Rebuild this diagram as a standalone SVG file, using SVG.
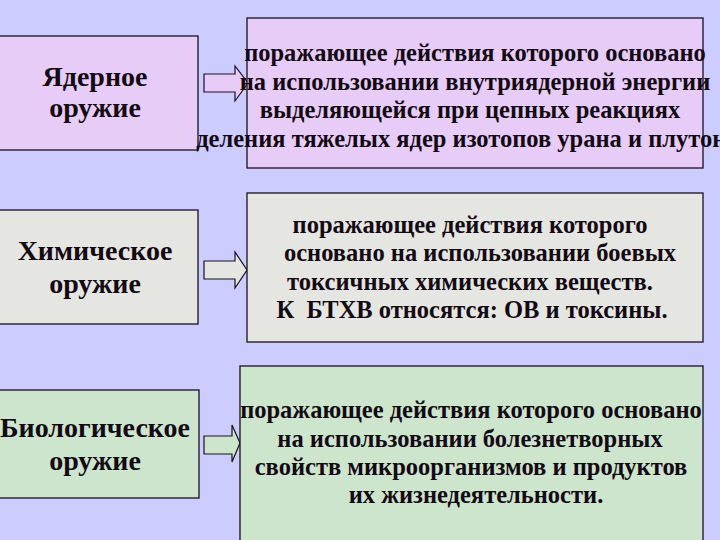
<svg xmlns="http://www.w3.org/2000/svg" width="720" height="540" viewBox="0 0 720 540">
<style>
.box{stroke:#1a1020;stroke-width:1.3}
.r1{fill:#E6CCF7}
.r2{fill:#E5E5E1}
.r3{fill:#CCE5CC}
.t{font-family:"Liberation Serif","Times New Roman",serif;font-weight:bold;fill:#140a14;text-anchor:middle}
.big{font-size:28px}
.sm{font-size:24.5px}
.arr{stroke:#1a1020;stroke-width:1.2}
</style>
<rect width="720" height="540" fill="#CCCCFF"/>
<g id="connectors">
<path class="arr r1" d="M204,74 H235 V66 L248,83 L235,101 V92 H204 Z"/>
<path class="arr r2" d="M204,261 H235 V252 L247,270 L235,288 V279 H204 Z"/>
<path class="arr r3" d="M204,436 H232 V425 L240,443 L232,462 V454 H204 Z"/>
</g>
<g id="nuclear">
<rect class="box r1" x="-1" y="36" width="199" height="114"/>
<text class="t big" x="95" y="86">Ядерное</text>
<text class="t big" x="95" y="117">оружие</text>
</g>
<g id="nuclear-desc">
<rect class="box r1" x="247" y="18" width="456" height="150"/>
<text class="t sm" x="475" y="61">поражающее действия которого основано</text>
<text class="t sm" x="475" y="90">на использовании внутриядерной энергии</text>
<text class="t sm" x="470" y="118">выделяющейся при цепных реакциях</text>
<text class="t sm" x="475" y="147">деления тяжелых ядер изотопов урана и плутония</text>
</g>
<g id="chemical">
<rect class="box r2" x="-1" y="210" width="199" height="114"/>
<text class="t big" x="95" y="260">Химическое</text>
<text class="t big" x="95" y="293">оружие</text>
</g>
<g id="chemical-desc">
<rect class="box r2" x="247" y="193" width="456" height="149"/>
<text class="t sm" x="470" y="233">поражающее действия которого</text>
<text class="t sm" x="480" y="261">основано на использовании боевых</text>
<text class="t sm" x="470" y="290">токсичных химических веществ.</text>
<text class="t sm" x="472" y="318" xml:space="preserve">К  БТХВ относятся: ОВ и токсины.</text>
</g>
<g id="biological">
<rect class="box r3" x="-1" y="390" width="200" height="108"/>
<text class="t big" x="95" y="437">Биологическое</text>
<text class="t big" x="95" y="470">оружие</text>
</g>
<g id="biological-desc">
<rect class="box r3" x="240" y="366" width="463" height="180"/>
<text class="t sm" x="471" y="418">поражающее действия которого основано</text>
<text class="t sm" x="470" y="447">на использовании болезнетворных</text>
<text class="t sm" x="471" y="475">свойств микроорганизмов и продуктов</text>
<text class="t sm" x="476" y="503">их жизнедеятельности.</text>
</g>
</svg>
